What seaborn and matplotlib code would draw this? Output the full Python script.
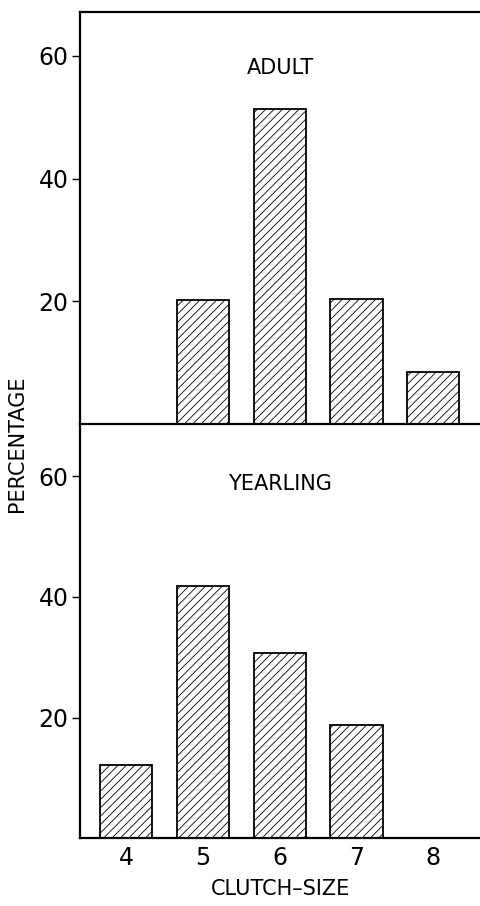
import matplotlib
matplotlib.use("Agg")
import matplotlib.pyplot as plt
import seaborn as sns
import pandas as pd

# clutch-size distributions (percent)
clutch_order = ["4", "5", "6", "7", "8"]
adult_sizes = ["5", "6", "7", "8"]
adult_pct = [20.2, 51.4, 20.4, 8.5]
yearling_sizes = ["4", "5", "6", "7"]
yearling_pct = [12.2, 41.8, 30.7, 18.7]
y_ticks = [20, 40, 60]

sns.set_style("ticks")
plt.rcParams["font.family"] = ["DejaVu Sans"]
plt.rcParams["hatch.linewidth"] = 0.6
plt.rcParams["axes.linewidth"] = 1.6
for k in ["text.color", "axes.edgecolor", "xtick.color", "ytick.color",
          "axes.labelcolor", "hatch.color"]:
    plt.rcParams[k] = "black"

fig = plt.figure(figsize=(4.81, 9.06), dpi=100)
ax2 = fig.add_axes([0.166, 0.075, 0.834, 0.457])
ax1 = fig.add_axes([0.166, 0.532, 0.834, 0.455])
ax1.patch.set_visible(False)

panels = [
    (ax1, adult_sizes, adult_pct, "ADULT", 67.2, 0.864),
    (ax2, yearling_sizes, yearling_pct, "YEARLING", 68.7, 0.855),
]

for ax, sizes, pct, name, ytop, ty in panels:
    df = pd.DataFrame({"size": sizes, "pct": pct})
    sns.barplot(data=df, x="size", y="pct", order=clutch_order, ax=ax,
                color="white", edgecolor="black", linewidth=1.3,
                hatch="////", width=0.68, saturation=1)
    ax.set_xlim(-0.6, 4.62)
    ax.set_ylim(0, ytop)
    ax.set_yticks(y_ticks)
    ax.tick_params(axis="y", length=6, width=1, labelsize=17, pad=2)
    ax.set_xlabel("")
    ax.set_ylabel("")
    ax.spines["right"].set_visible(False)
    ax.text(0.5, ty, name, transform=ax.transAxes,
            ha="center", va="center", fontsize=15)

ax1.spines["top"].set_visible(True)
ax1.tick_params(axis="x", bottom=False, labelbottom=False)
ax2.spines["top"].set_visible(False)
ax2.tick_params(axis="x", length=0, labelsize=17, pad=6)
ax2.set_xlabel("CLUTCH\u2013SIZE", fontsize=15, labelpad=6)

fig.text(0.035, 0.51, "PERCENTAGE", rotation=90, ha="center", va="center",
         fontsize=15)

fig.savefig("out.png", dpi=100)
